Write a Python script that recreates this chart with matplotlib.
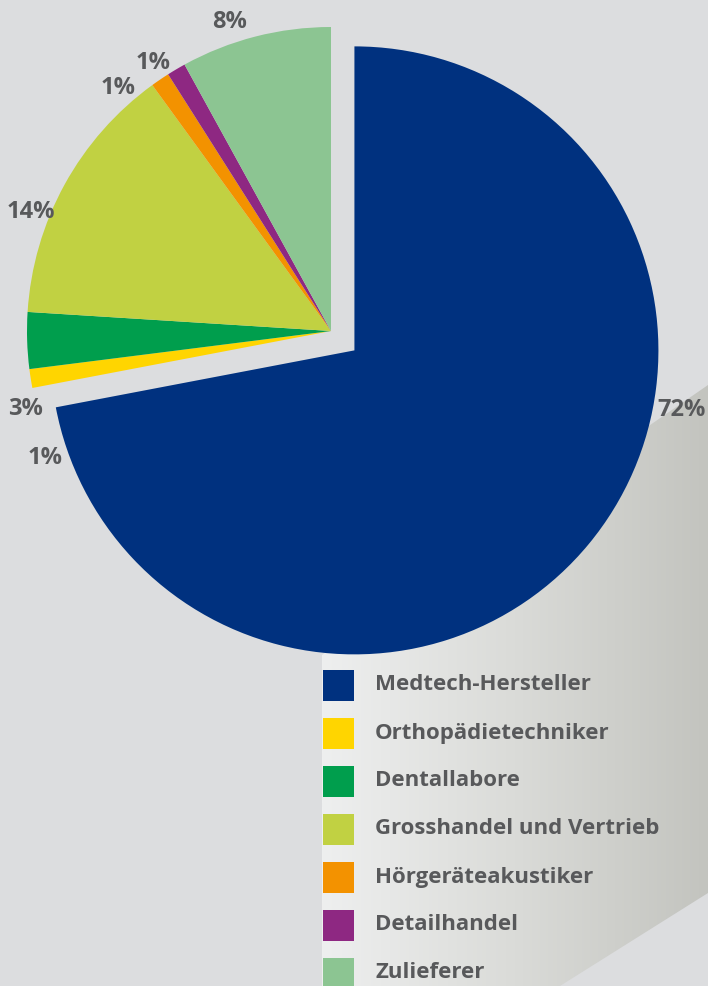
import numpy as np
import matplotlib.pyplot as plt
from matplotlib.patches import Polygon, Rectangle
from matplotlib.colors import LinearSegmentedColormap

# data
categories = ["Medtech-Hersteller", "Orthopädietechniker", "Dentallabore",
              "Grosshandel und Vertrieb", "Hörgeräteakustiker", "Detailhandel",
              "Zulieferer"]
shares = [72, 1, 3, 14, 1, 1, 8]
colors = ["#00317f", "#ffd500", "#009e4d", "#c1d142", "#f39200", "#8e2882", "#8cc592"]

# label placement tweaks (degrees shift, radius factor)
label_shift = [29.2, 15.0, 12.5, 7.2, 7.0, 3.0, 3.7]
label_dist = [1.095, 1.03, 1.036, 1.062, 1.062, 1.06, 1.07]

W, H = 708, 986
bg = "#dcdddf"
txt_col = "#58595b"
font = "Open Sans"

fig = plt.figure(figsize=(W / 100, H / 100), dpi=100, facecolor=bg)
ax = fig.add_axes([0, 0, 1, 1])
ax.set_facecolor(bg)


def px(x, y):
    return (x, H - y)


# pie (explode is in data units for matplotlib, so scale by radius)
R = 304
center = px(331, 331)
explode = [0.1 * R, 0, 0, 0, 0, 0, 0]
wedges, _ = ax.pie(shares, colors=colors, startangle=90, counterclock=False,
                   radius=R, center=center, explode=explode, frame=True,
                   wedgeprops=dict(linewidth=0))
for w in wedges:
    w.set_zorder(2)

# shadow behind the pie, with a horizontal gradient
shadow_pts = [px(322, 655), px(322, H), px(560, H), px(W, 893), px(W, 385), px(640, 432)]
shadow = Polygon(shadow_pts, closed=True, facecolor="none", edgecolor="none")
ax.add_patch(shadow)
grad = np.linspace(0, 1, 256).reshape(1, -1)
cmap = LinearSegmentedColormap.from_list("sh", ["#eeefef", "#dadbd8", "#c3c4bf"])
im = ax.imshow(grad, extent=[322, W, 0, H], cmap=cmap, aspect="auto", zorder=1)
im.set_clip_path(shadow)

ax.set_xlim(0, W)
ax.set_ylim(0, H)
ax.set_aspect("auto")
ax.axis("off")

for i, w in enumerate(wedges):
    mid = np.deg2rad((w.theta1 + w.theta2) / 2 + label_shift[i])
    cx, cy = w.center
    r = R * label_dist[i]
    ax.text(cx + r * np.cos(mid), cy + r * np.sin(mid), f"{shares[i]}%",
            ha="center", va="center", fontsize=17, fontweight="bold",
            color=txt_col, family=font, zorder=3)

# legend
for i, (lab, col) in enumerate(zip(categories, colors)):
    yc = 685 + 48 * i
    ax.add_patch(Rectangle(px(323, yc + 15.5), 31, 31, facecolor=col,
                           edgecolor="none", zorder=3))
    ax.text(375, H - yc, lab, ha="left", va="center", fontsize=16,
            fontweight="bold", color=txt_col, family=font, zorder=3)

fig.savefig("out.png", dpi=100, facecolor=bg)
